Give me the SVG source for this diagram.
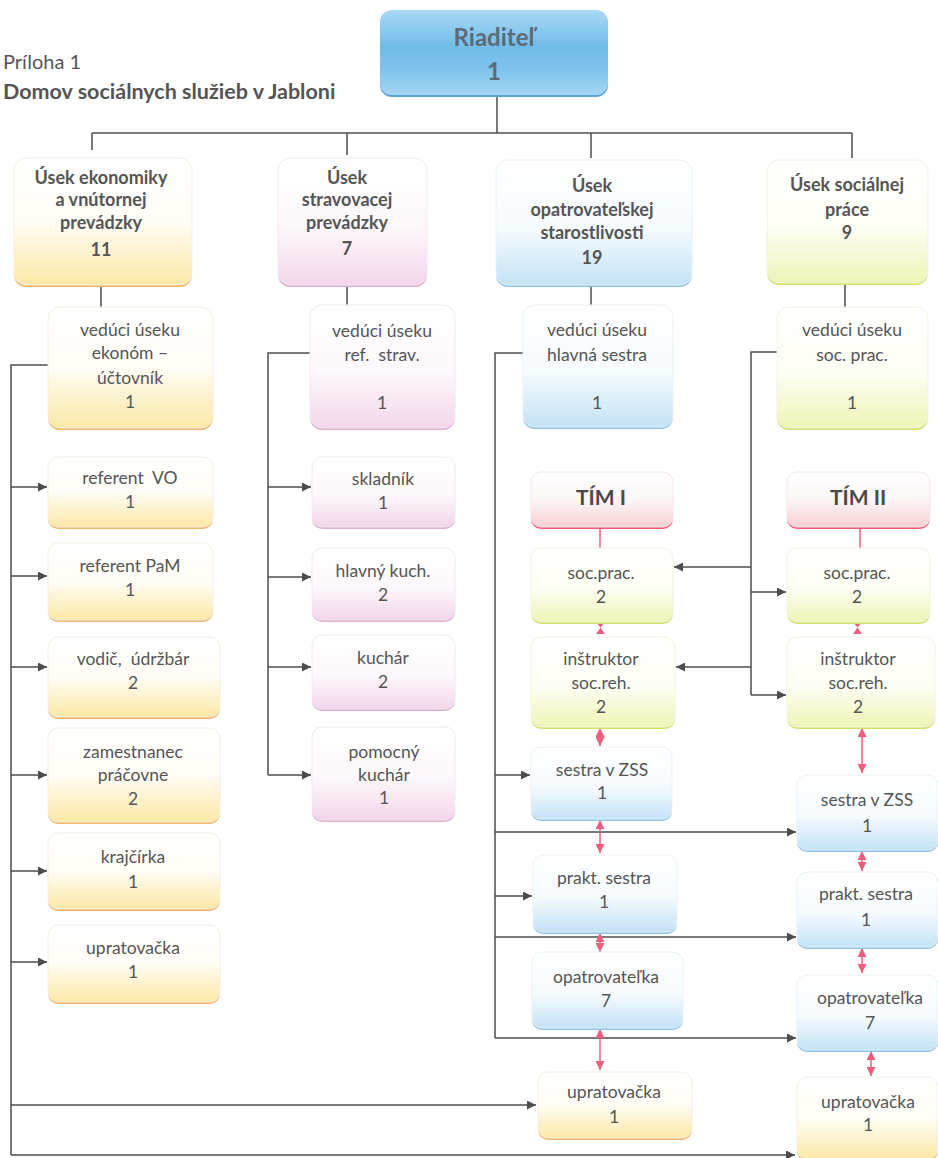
<svg xmlns="http://www.w3.org/2000/svg" width="938" height="1158" viewBox="0 0 938 1158">
<defs>
<style>
text{font-family:Lato,"Open Sans","Noto Sans",sans-serif;fill:#555;text-anchor:middle;white-space:pre}
.t{font-size:17.5px}
.b{font-size:18px;font-weight:bold}
.hd{text-anchor:start;font-size:20px}
.hdb{text-anchor:start;font-size:21.5px;font-weight:bold}
.dir{font-size:24px;font-weight:bold;fill:#5b6b78}
.tim{font-size:21px;font-weight:bold;fill:#4a4a4a}
.ln{fill:none;stroke:#4d4d4d;stroke-width:1.5}
.ar{fill:none;stroke:#4d4d4d;stroke-width:1.5;marker-end:url(#ah)}
.pk{fill:none;stroke:#ef5d7c;stroke-width:1.5;marker-start:url(#ph);marker-end:url(#ph)}
.pl{fill:none;stroke:#ef5d7c;stroke-width:1.5}
.o{fill:url(#gO);stroke:#f3eee4;stroke-width:1}
.oe{fill:#f3b56a}
.p{fill:url(#gP);stroke:#f1e8ee;stroke-width:1}
.pe{fill:#dcb0d2}
.u{fill:url(#gB);stroke:#e8f1f7;stroke-width:1}
.ue{fill:#8fc5e8}
.y{fill:url(#gY);stroke:#f0f2e0;stroke-width:1}
.ye{fill:#d6e16a}
.r{fill:url(#gR);stroke:#f3e6e6;stroke-width:1}
.re{fill:#ee5a7a}
</style>
<linearGradient id="gO" x1="0" y1="0" x2="0" y2="1"><stop offset="0" stop-color="#fff"/><stop offset="0.5" stop-color="#fffdf6"/><stop offset="1" stop-color="#fde8a6"/></linearGradient>
<linearGradient id="gP" x1="0" y1="0" x2="0" y2="1"><stop offset="0" stop-color="#fff"/><stop offset="0.55" stop-color="#fdf8fb"/><stop offset="1" stop-color="#f2d6ea"/></linearGradient>
<linearGradient id="gB" x1="0" y1="0" x2="0" y2="1"><stop offset="0" stop-color="#fff"/><stop offset="0.55" stop-color="#f6fbfe"/><stop offset="1" stop-color="#c3e2f6"/></linearGradient>
<linearGradient id="gY" x1="0" y1="0" x2="0" y2="1"><stop offset="0" stop-color="#fff"/><stop offset="0.55" stop-color="#fdfef4"/><stop offset="1" stop-color="#eff4b6"/></linearGradient>
<linearGradient id="gR" x1="0" y1="0" x2="0" y2="1"><stop offset="0" stop-color="#fff"/><stop offset="0.5" stop-color="#fdf6f6"/><stop offset="1" stop-color="#f6cfd3"/></linearGradient>
<linearGradient id="gD" x1="0" y1="0" x2="0" y2="1"><stop offset="0" stop-color="#a9d9f5"/><stop offset="0.45" stop-color="#70bbe8"/><stop offset="0.7" stop-color="#7fc3ec"/><stop offset="1" stop-color="#a6d6f3"/></linearGradient>
<marker id="ah" viewBox="0 0 10 10" refX="10" refY="5" markerWidth="11" markerHeight="9" markerUnits="userSpaceOnUse" orient="auto"><path d="M0,0 L10,5 L0,10 z" fill="#4d4d4d"/></marker>
<marker id="ph" viewBox="0 0 10 10" refX="10" refY="5" markerWidth="9" markerHeight="9" markerUnits="userSpaceOnUse" orient="auto-start-reverse"><path d="M0,0 L10,5 L0,10 z" fill="#ef5d7c"/></marker>
</defs>
<rect width="938" height="1158" fill="#fff"/>

<g id="header">
<text class="hd" x="3" y="69">Príloha 1</text>
<text class="hdb" x="3" y="99">Domov sociálnych služieb v Jabloni</text>
</g>

<g id="connectors">
<path class="ln" d="M497,95 V133 M92,133 H852 M92,133 V150 M347,133 V155 M591,133 V158 M852,133 V158"/>
<path class="ln" d="M101,285 V307 M347,285 V305 M591,285 V305 M845,283 V307"/>
<path class="ln" d="M48,365 H11 V1155"/>
<path class="ar" d="M11,487 H47"/><path class="ar" d="M11,576 H47"/><path class="ar" d="M11,667 H47"/><path class="ar" d="M11,775 H47"/><path class="ar" d="M11,871 H47"/><path class="ar" d="M11,962 H47"/>
<path class="ar" d="M11,1105 H536"/><path class="ar" d="M11,1155 H795"/>
<path class="ln" d="M310,353 H268 V775"/>
<path class="ar" d="M268,487 H311"/><path class="ar" d="M268,577 H311"/><path class="ar" d="M268,667 H311"/><path class="ar" d="M268,775 H311"/>
<path class="ln" d="M523,353 H495 V1038"/>
<path class="ar" d="M495,775 H530"/><path class="ar" d="M495,832 H796"/><path class="ar" d="M495,896 H532"/><path class="ar" d="M495,937 H796"/><path class="ar" d="M495,1038 H796"/>
<path class="ln" d="M777,352 H751 V695"/>
<path class="ar" d="M751,567 H674"/><path class="ar" d="M751,592 H786"/><path class="ar" d="M751,667 H676"/><path class="ar" d="M751,695 H786"/>
<path class="pl" d="M600,527 V548 M860,527 V548"/>
<path d="M596,622 H605 L600.5,627.5 L605,634 H596 L600.5,627.5 Z M853,622 H862 L857.5,627.5 L862,634 H853 L857.5,627.5 Z" fill="#ef5d7c"/>
<path class="pk" d="M600,728 V746"/>
<path class="pk" d="M600,820 V853"/>
<path class="pk" d="M600,933 V952"/>
<path class="pk" d="M600,1029 V1070"/>
<path class="pk" d="M862,728 V773"/>
<path class="pk" d="M862,851 V871"/>
<path class="pk" d="M862,948 V973"/>
<path class="pk" d="M871,1051 V1076"/>
</g>

<g id="riaditel">
<rect x="380" y="12" width="228" height="85" rx="12" fill="#5aa6d6"/>
<rect x="380" y="10" width="228" height="85" rx="12" fill="url(#gD)"/>
<text class="dir" x="494" y="46">Riaditeľ</text>
<text class="dir" x="494" y="80">1</text>
</g>

<g id="usek-ekonomiky">
<rect class="oe" x="14" y="160" width="178" height="127" rx="12"/>
<rect class="o" x="14" y="158" width="178" height="127" rx="12"/>
<text class="b"><tspan x="101" y="184">Úsek ekonomiky</tspan><tspan x="101" y="206">a vnútornej</tspan><tspan x="101" y="229">prevádzky</tspan><tspan x="101" y="256">11</tspan></text>
</g>
<g id="usek-stravovacej">
<rect class="pe" x="278" y="160" width="149" height="127" rx="12"/>
<rect class="p" x="278" y="158" width="149" height="127" rx="12"/>
<text class="b"><tspan x="347" y="184">Úsek</tspan><tspan x="347" y="206">stravovacej</tspan><tspan x="347" y="229">prevádzky</tspan><tspan x="347" y="255">7</tspan></text>
</g>
<g id="usek-opatrovatelskej">
<rect class="ue" x="496" y="162" width="196" height="125" rx="12"/>
<rect class="u" x="496" y="160" width="196" height="125" rx="12"/>
<text class="b"><tspan x="592" y="192">Úsek</tspan><tspan x="592" y="216">opatrovateľskej</tspan><tspan x="592" y="239">starostlivosti</tspan><tspan x="592" y="264">19</tspan></text>
</g>
<g id="usek-socialnej">
<rect class="ye" x="767" y="162" width="161" height="123" rx="12"/>
<rect class="y" x="767" y="160" width="161" height="123" rx="12"/>
<text class="b"><tspan x="847" y="191">Úsek sociálnej</tspan><tspan x="847" y="216">práce</tspan><tspan x="847" y="239">9</tspan></text>
</g>

<g id="veduci-ekonom">
<rect class="oe" x="48" y="309" width="165" height="121" rx="12"/>
<rect class="o" x="48" y="307" width="165" height="121" rx="12"/>
<text class="t"><tspan x="130" y="336">vedúci úseku</tspan><tspan x="130" y="359">ekonóm –</tspan><tspan x="130" y="384">účtovník</tspan><tspan x="130" y="408">1</tspan></text>
</g>
<g id="referent-vo">
<rect class="oe" x="48" y="459" width="165" height="70" rx="10"/>
<rect class="o" x="48" y="457" width="165" height="70" rx="10"/>
<text class="t"><tspan x="130" y="484">referent  VO</tspan><tspan x="130" y="508">1</tspan></text>
</g>
<g id="referent-pam">
<rect class="oe" x="48" y="545" width="165" height="77" rx="10"/>
<rect class="o" x="48" y="543" width="165" height="77" rx="10"/>
<text class="t"><tspan x="130" y="572">referent PaM</tspan><tspan x="130" y="596">1</tspan></text>
</g>
<g id="vodic">
<rect class="oe" x="48" y="639" width="172" height="80" rx="10"/>
<rect class="o" x="48" y="637" width="172" height="80" rx="10"/>
<text class="t"><tspan x="133" y="665">vodič,  údržbár</tspan><tspan x="133" y="689">2</tspan></text>
</g>
<g id="zamestnanec">
<rect class="oe" x="48" y="730" width="172" height="94" rx="10"/>
<rect class="o" x="48" y="728" width="172" height="94" rx="10"/>
<text class="t"><tspan x="133" y="758">zamestnanec</tspan><tspan x="133" y="781">práčovne</tspan><tspan x="133" y="805">2</tspan></text>
</g>
<g id="krajcirka">
<rect class="oe" x="48" y="835" width="172" height="76" rx="10"/>
<rect class="o" x="48" y="833" width="172" height="76" rx="10"/>
<text class="t"><tspan x="133" y="863">krajčírka</tspan><tspan x="133" y="888">1</tspan></text>
</g>
<g id="upratovacka-1">
<rect class="oe" x="48" y="927" width="172" height="77" rx="10"/>
<rect class="o" x="48" y="925" width="172" height="77" rx="10"/>
<text class="t"><tspan x="133" y="954">upratovačka</tspan><tspan x="133" y="978">1</tspan></text>
</g>

<g id="veduci-strav">
<rect class="pe" x="310" y="307" width="145" height="123" rx="12"/>
<rect class="p" x="310" y="305" width="145" height="123" rx="12"/>
<text class="t"><tspan x="382" y="337">vedúci úseku</tspan><tspan x="382" y="361">ref.  strav.</tspan><tspan x="382" y="409">1</tspan></text>
</g>
<g id="skladnik">
<rect class="pe" x="312" y="459" width="143" height="70" rx="10"/>
<rect class="p" x="312" y="457" width="143" height="70" rx="10"/>
<text class="t"><tspan x="383" y="485">skladník</tspan><tspan x="383" y="509">1</tspan></text>
</g>
<g id="hlavny-kuch">
<rect class="pe" x="312" y="550" width="143" height="72" rx="10"/>
<rect class="p" x="312" y="548" width="143" height="72" rx="10"/>
<text class="t"><tspan x="383" y="577">hlavný kuch.</tspan><tspan x="383" y="601">2</tspan></text>
</g>
<g id="kuchar">
<rect class="pe" x="312" y="637" width="143" height="74" rx="10"/>
<rect class="p" x="312" y="635" width="143" height="74" rx="10"/>
<text class="t"><tspan x="383" y="664">kuchár</tspan><tspan x="383" y="688">2</tspan></text>
</g>
<g id="pomocny-kuchar">
<rect class="pe" x="312" y="729" width="143" height="93" rx="10"/>
<rect class="p" x="312" y="727" width="143" height="93" rx="10"/>
<text class="t"><tspan x="384" y="758">pomocný</tspan><tspan x="384" y="781">kuchár</tspan><tspan x="384" y="804">1</tspan></text>
</g>

<g id="veduci-hlavna-sestra">
<rect class="ue" x="523" y="307" width="150" height="122" rx="12"/>
<rect class="u" x="523" y="305" width="150" height="122" rx="12"/>
<text class="t"><tspan x="597" y="336">vedúci úseku</tspan><tspan x="597" y="361">hlavná sestra</tspan><tspan x="597" y="409">1</tspan></text>
</g>
<g id="tim-1">
<rect class="re" x="531" y="474" width="142" height="55" rx="10"/>
<rect class="r" x="531" y="472" width="142" height="55" rx="10"/>
<text class="tim" x="601" y="505">TÍM I</text>
</g>
<g id="socprac-1">
<rect class="ye" x="531" y="550" width="142" height="74" rx="10"/>
<rect class="y" x="531" y="548" width="142" height="74" rx="10"/>
<text class="t"><tspan x="601" y="579">soc.prac.</tspan><tspan x="601" y="603">2</tspan></text>
</g>
<g id="instruktor-1">
<rect class="ye" x="531" y="639" width="144" height="90" rx="10"/>
<rect class="y" x="531" y="637" width="144" height="90" rx="10"/>
<text class="t"><tspan x="601" y="665">inštruktor</tspan><tspan x="601" y="689">soc.reh.</tspan><tspan x="601" y="713">2</tspan></text>
</g>
<g id="sestra-zss-1">
<rect class="ue" x="531" y="749" width="141" height="72" rx="10"/>
<rect class="u" x="531" y="747" width="141" height="72" rx="10"/>
<text class="t"><tspan x="602" y="776">sestra v ZSS</tspan><tspan x="602" y="799">1</tspan></text>
</g>
<g id="prakt-sestra-1">
<rect class="ue" x="533" y="857" width="144" height="77" rx="10"/>
<rect class="u" x="533" y="855" width="144" height="77" rx="10"/>
<text class="t"><tspan x="604" y="884">prakt. sestra</tspan><tspan x="604" y="908">1</tspan></text>
</g>
<g id="opatrovatelka-1">
<rect class="ue" x="532" y="954" width="151" height="76" rx="10"/>
<rect class="u" x="532" y="952" width="151" height="76" rx="10"/>
<text class="t"><tspan x="606" y="983">opatrovateľka</tspan><tspan x="606" y="1007">7</tspan></text>
</g>
<g id="upratovacka-3">
<rect class="oe" x="538" y="1074" width="154" height="66" rx="10"/>
<rect class="o" x="538" y="1072" width="154" height="66" rx="10"/>
<text class="t"><tspan x="614" y="1098">upratovačka</tspan><tspan x="614" y="1123">1</tspan></text>
</g>

<g id="veduci-soc-prac">
<rect class="ye" x="777" y="309" width="151" height="121" rx="12"/>
<rect class="y" x="777" y="307" width="151" height="121" rx="12"/>
<text class="t"><tspan x="852" y="336">vedúci úseku</tspan><tspan x="852" y="361">soc. prac.</tspan><tspan x="852" y="409">1</tspan></text>
</g>
<g id="tim-2">
<rect class="re" x="787" y="474" width="143" height="55" rx="10"/>
<rect class="r" x="787" y="472" width="143" height="55" rx="10"/>
<text class="tim" x="858" y="505">TÍM II</text>
</g>
<g id="socprac-2">
<rect class="ye" x="787" y="550" width="143" height="74" rx="10"/>
<rect class="y" x="787" y="548" width="143" height="74" rx="10"/>
<text class="t"><tspan x="857" y="579">soc.prac.</tspan><tspan x="857" y="603">2</tspan></text>
</g>
<g id="instruktor-2">
<rect class="ye" x="787" y="639" width="148" height="90" rx="10"/>
<rect class="y" x="787" y="637" width="148" height="90" rx="10"/>
<text class="t"><tspan x="858" y="665">inštruktor</tspan><tspan x="858" y="689">soc.reh.</tspan><tspan x="858" y="713">2</tspan></text>
</g>
<g id="sestra-zss-2">
<rect class="ue" x="797" y="777" width="141" height="75" rx="10"/>
<rect class="u" x="797" y="775" width="141" height="75" rx="10"/>
<text class="t"><tspan x="867" y="806">sestra v ZSS</tspan><tspan x="867" y="832">1</tspan></text>
</g>
<g id="prakt-sestra-2">
<rect class="ue" x="797" y="874" width="141" height="75" rx="10"/>
<rect class="u" x="797" y="872" width="141" height="75" rx="10"/>
<text class="t"><tspan x="866" y="900">prakt. sestra</tspan><tspan x="866" y="926">1</tspan></text>
</g>
<g id="opatrovatelka-2">
<rect class="ue" x="797" y="977" width="141" height="75" rx="10"/>
<rect class="u" x="797" y="975" width="141" height="75" rx="10"/>
<text class="t"><tspan x="870" y="1004">opatrovateľka</tspan><tspan x="870" y="1029">7</tspan></text>
</g>
<g id="upratovacka-4">
<rect class="oe" x="797" y="1079" width="141" height="82" rx="10"/>
<rect class="o" x="797" y="1077" width="141" height="82" rx="10"/>
<text class="t"><tspan x="868" y="1108">upratovačka</tspan><tspan x="868" y="1131">1</tspan></text>
</g>
</svg>
